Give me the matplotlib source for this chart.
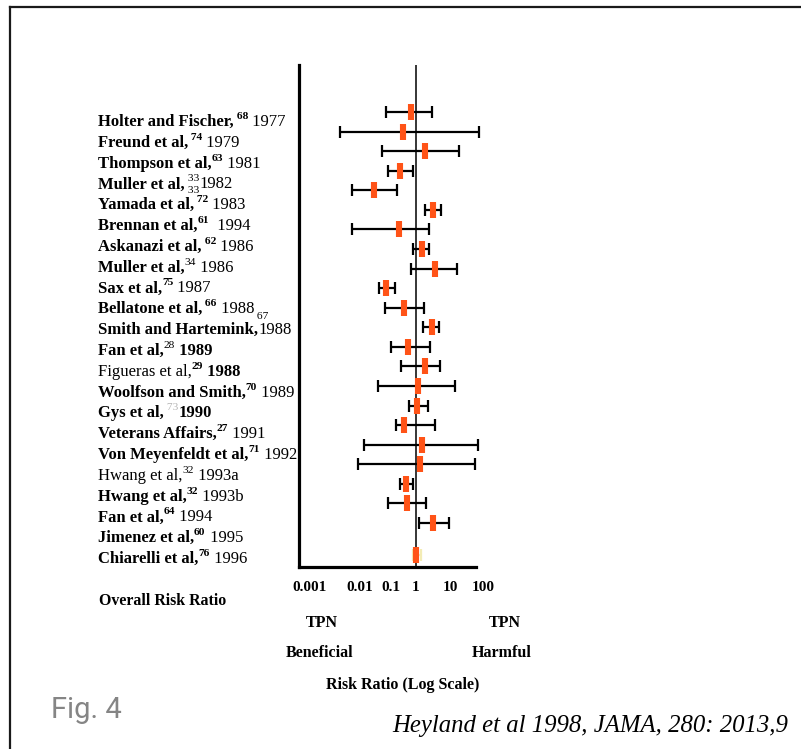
import numpy as np
import matplotlib
matplotlib.use("Agg")
import matplotlib.pyplot as plt
from matplotlib.lines import Line2D
from matplotlib.transforms import ScaledTranslation
from matplotlib.ticker import FixedLocator, FixedFormatter, NullLocator

plt.rcParams['font.family'] = ['Liberation Serif', 'DejaVu Serif']

# risk ratio and 95% CI per trial (top to bottom)
rr = [0.72, 0.42, 1.94, 0.36, 0.061, 3.2, 0.33, 1.52, 3.75, 0.138, 0.46,
      3.12, 0.60, 1.87, 1.21, 1.13, 0.46, 1.52, 1.33, 0.515, 0.55, 3.34, 1.0]
ci_low = [0.133, 0.006, 0.104, 0.152, 0.0136, 1.9, 0.0136, 0.84, 0.74, 0.084, 0.124,
          1.7, 0.19, 0.367, 0.077, 0.66, 0.27, 0.0306, 0.0208, 0.35, 0.152, 1.29, 0.83]
ci_high = [3.06, 73.7, 19.0, 0.84, 0.29, 5.6, 2.44, 2.44, 16.3, 0.255, 1.74,
           4.9, 2.67, 5.26, 14.2, 2.33, 3.75, 70.3, 56.2, 0.86, 2.08, 9.5, 1.45]

tick_values = [0.001, 0.01, 0.1, 1, 10, 100]
tick_labels = ['0.001', '0.01', '0.1', '1', '10', '100']
tick_nudge = [-4, 12, 9, 0, 1, 0]   # the original's labels are not quite under their ticks

# study labels: (text, weight, kind)
labels = [
    [("Holter and Fischer,", "bold", ""), (" 68", "bold", "sup"), (" 1977", "normal", "")],
    [("Freund et al,", "bold", ""), (" 74", "bold", "sup"), (" 1979", "normal", "")],
    [("Thompson et al,", "bold", ""), ("63", "bold", "sup"), (" 1981", "normal", "")],
    [("Muller et al,", "bold", ""), (" 33", "normal", "sup"), (" 33", "normal", "stack"), ("1982", "normal", "")],
    [("Yamada et al,", "bold", ""), (" 72", "bold", "sup"), (" 1983", "normal", "")],
    [("Brennan et al,", "bold", ""), ("61", "bold", "sup"), ("  1994", "normal", "")],
    [("Askanazi et al,", "bold", ""), (" 62", "bold", "sup"), (" 1986", "normal", "")],
    [("Muller et al,", "bold", ""), ("34", "normal", "sup"), (" 1986", "normal", "")],
    [("Sax et al,", "bold", ""), ("75", "bold", "sup"), (" 1987", "normal", "")],
    [("Bellatone et al,", "bold", ""), (" 66", "bold", "sup"), (" 1988", "normal", ""), (" 67", "normal", "sub")],
    [("Smith and Hartemink,", "bold", ""), ("1988", "normal", "")],
    [("Fan et al,", "bold", ""), ("28", "normal", "sup"), (" 1989", "bold", "")],
    [("Figueras et al,", "normal", ""), ("29", "bold", "sup"), (" 1988", "bold", "")],
    [("Woolfson and Smith,", "bold", ""), ("70", "bold", "sup"), (" 1989", "normal", "")],
    [("Gys et al,", "bold", ""), (" 73", "normal", "ghost"), ("1990", "bold", "")],
    [("Veterans Affairs,", "bold", ""), ("27", "bold", "sup"), (" 1991", "normal", "")],
    [("Von Meyenfeldt et al,", "bold", ""), ("71", "bold", "sup"), (" 1992", "normal", "")],
    [("Hwang et al,", "normal", ""), ("32", "normal", "sup"), (" 1993a", "normal", "")],
    [("Hwang et al,", "bold", ""), ("32", "bold", "sup"), (" 1993b", "normal", "")],
    [("Fan et al,", "bold", ""), ("64", "bold", "sup"), (" 1994", "normal", "")],
    [("Jimenez et al,", "bold", ""), ("60", "bold", "sup"), (" 1995", "normal", "")],
    [("Chiarelli et al,", "bold", ""), ("76", "bold", "sup"), (" 1996", "normal", "")],
]

W, H = 801, 749
def fx(px):
    return px / W
def fy(py):
    return 1 - py / H

fig = plt.figure(figsize=(W / 100, H / 100), dpi=100)
fig.patch.set_facecolor('white')

# page frame (left and top edges only)
fig.add_artist(Line2D([fx(10), fx(10)], [fy(7), 0], transform=fig.transFigure, color='#1a1a1a', lw=1.6))
fig.add_artist(Line2D([fx(10), 1], [fy(7), fy(7)], transform=fig.transFigure, color='#1a1a1a', lw=1.6))

ax = fig.add_axes([fx(299), fy(567), fx(490) - fx(299), fy(65) - fy(567)])
ax.set_xscale('log')
decade = 34.0   # pixels per decade
one_px = 415.5  # where RR = 1 sits
ax.set_xlim(10 ** ((299 - one_px) / decade), 10 ** ((490 - one_px) / decade))
ax.set_ylim(23.25, -2.40)

rr = np.array(rr)
lo = np.array(ci_low)
hi = np.array(ci_high)
rows = np.arange(len(rr), dtype=float)
rows[-1] += 0.64

ax.axvline(1, color='black', lw=1.1, zorder=1)
ax.errorbar(rr[:-1], rows[:-1], xerr=[rr[:-1] - lo[:-1], hi[:-1] - rr[:-1]], fmt='none',
            ecolor='black', elinewidth=1.6, capsize=4.3, capthick=1.6, zorder=2)
ax.errorbar(rr[-1:], rows[-1:], xerr=[rr[-1:] - lo[-1:], hi[-1:] - rr[-1:]], fmt='none',
            ecolor='#f3ecb5', elinewidth=1.6, capsize=4.3, capthick=1.6, zorder=2)
ax.plot(rr, rows, linestyle='none', marker='|', markersize=12, mew=4.4,
        color='#ff5317', zorder=3)

for s in ['top', 'right']:
    ax.spines[s].set_visible(False)
ax.spines['left'].set_linewidth(2.3)
ax.spines['bottom'].set_linewidth(2.3)
ax.spines['bottom'].set_bounds(ax.get_xlim()[0], 10 ** ((476 - one_px) / decade))
ax.set_yticks([])
ax.xaxis.set_major_locator(FixedLocator(tick_values))
ax.xaxis.set_major_formatter(FixedFormatter(tick_labels))
ax.xaxis.set_minor_locator(NullLocator())
ax.tick_params(axis='x', which='both', length=0, pad=10, labelsize=11)
for tick, dx in zip(ax.xaxis.get_major_ticks(), tick_nudge):
    tick.label1.set_fontweight('bold')
    tick.label1.set_transform(tick.label1.get_transform() +
                              ScaledTranslation(dx / 100, 0, fig.dpi_scale_trans))

# study labels built piece by piece so superscripts sit right
size = 12
small = 8.2
for k, segs in enumerate(labels):
    yb = H - (126 + k * 20.81)
    first = ax.annotate(segs[0][0], xy=(98, yb), xycoords='figure pixels', va='baseline',
                        ha='left', fontsize=size, fontweight=segs[0][1], annotation_clip=False)
    prev = first
    prev_anchor = first
    for text, weight, kind in segs[1:]:
        anchor = prev_anchor if kind == 'stack' else prev
        fs = size
        dy = 0
        color = 'black'
        if kind in ('sup', 'ghost'):
            fs, dy = small, 6.5
        elif kind == 'sub':
            fs, dy = small, -3
        elif kind == 'stack':
            fs, dy = small, -1.5
        if kind == 'ghost':
            color = '#b5b5b5'
        t = ax.annotate(text, xy=(1, 0), xycoords=(anchor, first), xytext=(0, dy),
                        textcoords='offset points', va='bottom', ha='left', fontsize=fs,
                        fontweight=weight, color=color, annotation_clip=False)
        prev_anchor = anchor
        prev = t

fig.text(fx(99), fy(601), "Overall Risk Ratio", ha='left', va='center', fontsize=11.4, fontweight='bold')
fig.text(fx(322), fy(623), "TPN", ha='center', va='center', fontsize=11.5, fontweight='bold')
fig.text(fx(320), fy(653), "Beneficial", ha='center', va='center', fontsize=11.5, fontweight='bold')
fig.text(fx(505), fy(623), "TPN", ha='center', va='center', fontsize=11.5, fontweight='bold')
fig.text(fx(502), fy(653), "Harmful", ha='center', va='center', fontsize=11.5, fontweight='bold')
fig.text(fx(403), fy(685), "Risk Ratio (Log Scale)", ha='center', va='center', fontsize=11.5, fontweight='bold')
fig.text(fx(51), fy(710), "Fig. 4", ha='left', va='center', fontsize=21, color='#858585', family='Roboto')
fig.text(fx(788), fy(726), "Heyland et al 1998, JAMA, 280: 2013,9", ha='right', va='center',
         fontsize=17.8, style='italic')

fig.savefig('out.png', dpi=100, facecolor='white')
